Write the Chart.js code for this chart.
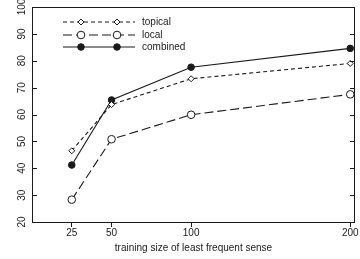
<!DOCTYPE html>
<html>
<head>
<meta charset="utf-8">
<script src="https://cdn.jsdelivr.net/npm/chart.js@4/dist/chart.umd.min.js"></script>
<style>
  html, body { margin: 0; padding: 0; background: #fff; }
  canvas { display: block; }
</style>
</head>
<body>
<canvas id="chart" width="360" height="259"></canvas>
<script>
const trainingSizes = [25, 50, 100, 200];
const topical = [46.5, 63.7, 73.3, 79.0];
const local = [28.3, 50.8, 59.9, 67.5];
const combined = [41.2, 65.4, 77.6, 84.6];
const xTicks = [25, 50, 100, 200];
const yTicks = [20, 30, 40, 50, 60, 70, 80, 90, 100];
const seriesNames = ['topical', 'local', 'combined'];

const ink = '#1a1a1a';
const axisFont = { family: "'Liberation Sans', Arial, sans-serif", size: 10 };

function toPoints(values) {
    return trainingSizes.map((x, i) => ({ x, y: values[i] }));
}

const seriesStyle = [
    { pointStyle: 'rectRot', radius: 3, fill: '#fff', dash: [4, 3] },
    { pointStyle: 'circle', radius: 3.8, fill: '#fff', dash: [9, 4] },
    { pointStyle: 'circle', radius: 3.3, fill: ink, dash: [] },
];

const datasets = [topical, local, combined].map((values, i) => ({
    label: seriesNames[i],
    data: toPoints(values),
    borderColor: ink,
    borderWidth: 1.1,
    borderDash: seriesStyle[i].dash,
    pointStyle: seriesStyle[i].pointStyle,
    pointRadius: seriesStyle[i].radius,
    pointBackgroundColor: seriesStyle[i].fill,
    pointBorderColor: ink,
    pointBorderWidth: 1,
    tension: 0,
}));

// frame, inner y ticks, rotated y labels and the in-plot legend
const framePlugin = {
    id: 'frame',
    afterDraw(chart) {
        const { ctx, chartArea: area } = chart;
        const y = chart.scales.y;
        ctx.save();
        ctx.strokeStyle = ink;
        ctx.lineWidth = 1;
        ctx.strokeRect(area.left + 0.5, area.top + 0.5, area.right - area.left - 1, area.bottom - area.top);

        ctx.fillStyle = ink;
        ctx.font = `${axisFont.size}px ${axisFont.family}`;
        ctx.textAlign = 'center';
        ctx.textBaseline = 'middle';
        yTicks.forEach((v) => {
            const py = Math.round(y.getPixelForValue(v)) + 0.5;
            ctx.beginPath();
            ctx.moveTo(area.left, py);
            ctx.lineTo(area.left + 5, py);
            ctx.moveTo(area.right - 5, py);
            ctx.lineTo(area.right, py);
            ctx.stroke();
            ctx.save();
            ctx.translate(area.left - 10, y.getPixelForValue(v));
            ctx.rotate(-Math.PI / 2);
            ctx.fillText(String(v), 0, 0);
            ctx.restore();
        });

        const rowY = [22, 35, 47];
        const x0 = area.left + 31;
        const x1 = area.left + 103;
        chart.data.datasets.forEach((ds, i) => {
            const ry = rowY[i];
            ctx.save();
            ctx.lineWidth = ds.borderWidth;
            ctx.setLineDash(ds.borderDash);
            ctx.beginPath();
            ctx.moveTo(x0, ry);
            ctx.lineTo(x1, ry);
            ctx.stroke();
            ctx.restore();
            [x0 + 18, x1 - 18].forEach((mx) => {
                ctx.save();
                ctx.fillStyle = ds.pointBackgroundColor;
                ctx.strokeStyle = ds.pointBorderColor;
                ctx.lineWidth = ds.pointBorderWidth;
                Chart.helpers.drawPoint(ctx, {
                    pointStyle: ds.pointStyle,
                    radius: ds.pointRadius,
                    rotation: 0,
                    borderWidth: ds.pointBorderWidth,
                }, mx, ry);
                ctx.restore();
            });
            ctx.fillStyle = ink;
            ctx.textAlign = 'left';
            ctx.fillText(ds.label, x1 + 7, ry);
        });
        ctx.restore();
    },
};

new Chart(document.getElementById('chart'), {
    type: 'line',
    data: { datasets },
    options: {
        responsive: false,
        animation: false,
        events: [],
        layout: { padding: { top: 7, right: 5, left: 0, bottom: 0 } },
        plugins: { legend: { display: false }, tooltip: { enabled: false } },
        scales: {
            x: {
                type: 'linear',
                min: 0,
                max: 203,
                afterBuildTicks: (scale) => {
                    scale.ticks = xTicks.map((value) => ({ value }));
                },
                afterFit: (scale) => { scale.height = 37; },
                ticks: { font: axisFont, color: ink, padding: 0, maxRotation: 0 },
                grid: { drawOnChartArea: false, tickLength: 5, color: ink },
                border: { display: false },
                title: {
                    display: true,
                    text: 'training size of least frequent sense',
                    font: axisFont,
                    color: ink,
                    padding: { top: 0, bottom: 5 },
                },
            },
            y: {
                type: 'linear',
                min: 20,
                max: 100,
                afterFit: (scale) => { scale.width = 32; },
                ticks: { display: false },
                grid: { display: false },
                border: { display: false },
            },
        },
    },
    plugins: [framePlugin],
});
</script>
</body>
</html>
